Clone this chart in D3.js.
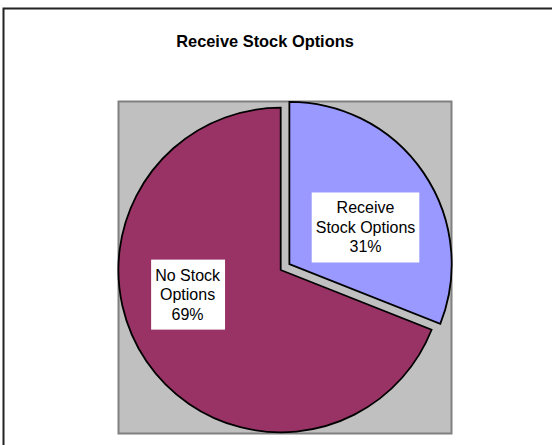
<!DOCTYPE html>
<html>
<head>
<meta charset="utf-8">
<script src="https://cdn.jsdelivr.net/npm/d3@7"></script>
<style>
  html, body { margin: 0; padding: 0; background: #fff; }
  svg { display: block; }
  text { font-family: Arial, "Liberation Sans", sans-serif; }
</style>
</head>
<body>
<svg id="chart" width="552" height="445"></svg>
<script>
// ---- data ----
const title = "Receive Stock Options";
const categories = ["Receive Stock Options", "No Stock Options"];
const values = [31, 69];
const labelLines = [["Receive", "Stock Options"], ["No Stock", "Options"]];
const colors = ["#9999FF", "#993366"];

// ---- layout ----
const W = 552, H = 445;
const svg = d3.select("#chart");

// chart area border (extends beyond the window at right/bottom)
svg.append("rect")
  .attr("x", 3.5).attr("y", 8.5)
  .attr("width", 700).attr("height", 600)
  .attr("fill", "#fff")
  .attr("stroke", "#222").attr("stroke-width", 2);

svg.append("text")
  .attr("x", 265).attr("y", 47)
  .attr("text-anchor", "middle")
  .attr("font-size", 16.4).attr("font-weight", "bold")
  .attr("fill", "#000")
  .text(title);

// plot area
svg.append("rect")
  .attr("x", 118.5).attr("y", 101.5)
  .attr("width", 333).attr("height", 332)
  .attr("fill", "#C0C0C0")
  .attr("stroke", "#808080").attr("stroke-width", 2);

const cx = 280.7, cy = 270, R = 162.3;
const explode = [10.5, 0];

const pie = d3.pie().sort(null).value(d => d)
  .startAngle(0).endAngle(2 * Math.PI);
const arcs = pie(values);
const arc = d3.arc().innerRadius(0).outerRadius(R);

const g = svg.append("g").attr("transform", `translate(${cx},${cy})`);

const total = d3.sum(values);
// label nudges (pixels) relative to slice centroid, mimicking Excel placement
const labelArc = d3.arc().innerRadius(0).outerRadius(R * 1.0);
const labelNudge = [[9, 9], [-26, -21]];

arcs.forEach((a, i) => {
  const mid = (a.startAngle + a.endAngle) / 2;
  const ox = explode[i] * Math.sin(mid), oy = -explode[i] * Math.cos(mid);
  const sg = g.append("g").attr("transform", `translate(${ox},${oy})`);
  sg.append("path")
    .attr("d", arc(a))
    .attr("fill", colors[i])
    .attr("stroke", "#000").attr("stroke-width", 1.8)
    .attr("stroke-linejoin", "miter");
});

arcs.forEach((a, i) => {
  const mid = (a.startAngle + a.endAngle) / 2;
  const ox = explode[i] * Math.sin(mid), oy = -explode[i] * Math.cos(mid);
  const c = labelArc.centroid(a);
  const lx = ox + c[0] + labelNudge[i][0];
  const ly = oy + c[1] + labelNudge[i][1];
  const lines = labelLines[i].concat([Math.round(values[i] / total * 100) + "%"]);
  const lg = g.append("g").attr("transform", `translate(${lx},${ly})`);
  const lh = 19.5;
  const t = lg.append("text")
    .attr("text-anchor", "middle")
    .attr("font-size", 16).attr("fill", "#000");
  lines.forEach((s, k) => {
    t.append("tspan").attr("x", 0)
      .attr("y", (k - (lines.length - 1) / 2) * lh + 5.5)
      .text(s);
  });
  const bb = t.node().getBBox();
  lg.insert("rect", "text")
    .attr("x", bb.x - 4).attr("y", -35)
    .attr("width", bb.width + 8).attr("height", 70)
    .attr("fill", "#fff");
});
</script>
</body>
</html>
